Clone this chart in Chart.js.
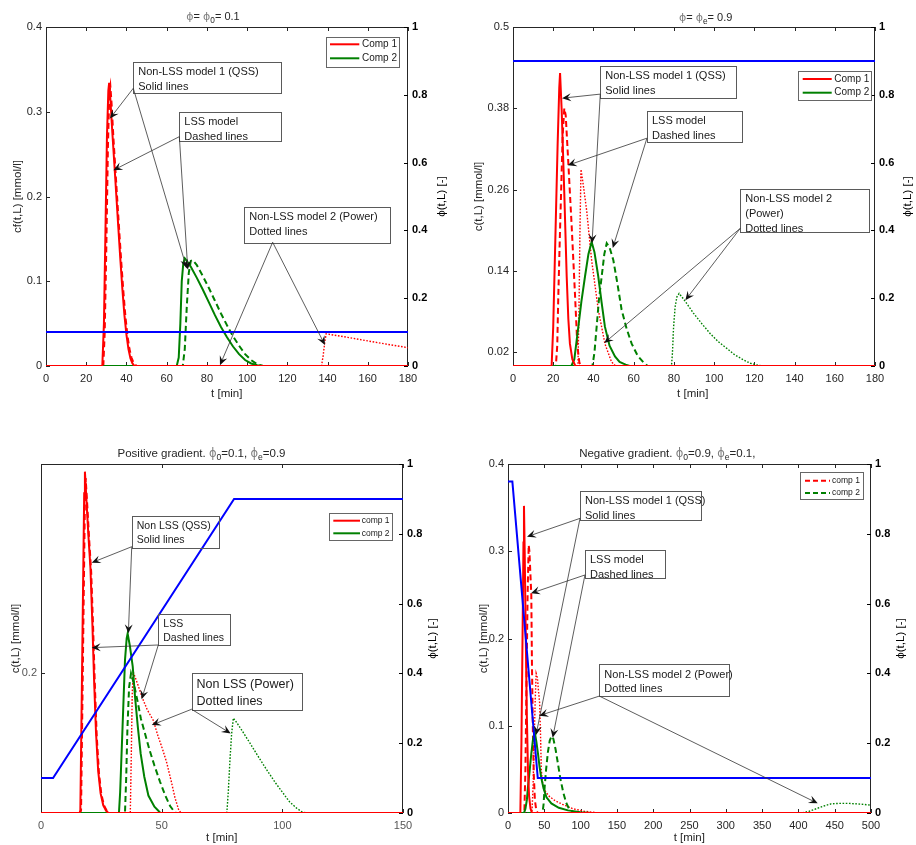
<!DOCTYPE html>
<html>
<head>
<meta charset="utf-8">
<script src="https://cdn.jsdelivr.net/npm/chart.js@4.4.0/dist/chart.umd.min.js"></script>
<style>
  html, body { margin: 0; padding: 0; background: #fff; }
  #wrap { position: relative; width: 916px; height: 845px; }
  #wrap canvas { position: absolute; }
</style>
</head>
<body>
<div id="wrap">
  <canvas id="c1" width="458" height="420" style="left:0;top:0"></canvas>
  <canvas id="c2" width="458" height="420" style="left:458px;top:0"></canvas>
  <canvas id="c3" width="458" height="425" style="left:0;top:420px"></canvas>
  <canvas id="c4" width="458" height="425" style="left:458px;top:420px"></canvas>
</div>
<script>
// ---- data: [t (min), value] ----
// panel 1: phi = phi0 = 0.1
const a_phi   = [[0,0.1],[180,0.1]];
const a_r_qss = [[0,0],[28,0],[28.8,0.05],[29.5,0.15],[30.3,0.27],[31,0.325],[31.4,0.334],[32,0.315],[33,0.275],[34,0.238],[35,0.2],[36,0.162],[37,0.125],[38,0.09],[39,0.06],[40,0.037],[41,0.02],[42,0.009],[43,0.003],[44,0],[180,0]];
const a_r_lss = [[0,0],[28.5,0],[29.2,0.04],[30,0.14],[30.8,0.26],[31.5,0.322],[32,0.33],[32.6,0.31],[33.5,0.27],[34.5,0.232],[35.5,0.194],[36.5,0.156],[37.5,0.12],[38.5,0.087],[39.5,0.058],[40.5,0.036],[41.5,0.02],[42.5,0.01],[43.5,0.004],[45,0],[180,0]];
const a_r_pow = [[0,0],[137,0],[137.8,0.012],[138.6,0.028],[139.3,0.038],[150,0.0338],[160,0.0296],[170,0.0255],[180,0.0216]];
const a_g_qss = [[0,0],[65,0],[66,0.01],[66.8,0.05],[67.5,0.1],[68.3,0.122],[69,0.127],[70,0.124],[72,0.117],[75,0.104],[78,0.09],[81,0.075],[84,0.06],[87,0.046],[90,0.034],[93,0.023],[96,0.014],[99,0.007],[102,0.003],[105,0.001],[108,0],[180,0]];
const a_g_lss = [[0,0],[68,0],[69,0.02],[70,0.07],[71,0.11],[72,0.124],[73,0.125],[75,0.119],[78,0.106],[81,0.092],[84,0.077],[87,0.062],[90,0.048],[93,0.035],[96,0.024],[99,0.014],[102,0.007],[105,0.002],[108,0],[180,0]];
const a_g_pow = [[0,0],[180,0]];

// panel 2: phi = phie = 0.9
const b_phi   = [[0,0.9],[180,0.9]];
const b_r_qss = [[0,0],[19.2,0],[20,0.058],[21.2,0.205],[22.2,0.328],[23,0.41],[23.4,0.432],[24.2,0.378],[25.5,0.255],[26.7,0.132],[27.5,0.07],[28.3,0.033],[29.5,0.01],[31,0],[180,0]];
const b_r_lss = [[0,0],[21.3,0],[22,0.03],[22.5,0.1],[23.2,0.18],[23.9,0.255],[24.7,0.34],[25.5,0.38],[26.2,0.37],[27.5,0.3],[29.2,0.205],[30.8,0.107],[32,0.03],[33,0.005],[34,0],[180,0]];
const b_r_pow = [[0,0],[32.3,0],[32.8,0.08],[33.3,0.2],[33.8,0.29],[34.8,0.27],[36.6,0.23],[39.1,0.156],[42.4,0.083],[45.7,0.033],[49,0.006],[51,0],[180,0]];
const b_g_qss = [[0,0],[29,0],[30.5,0.01],[32.5,0.058],[34,0.095],[35.8,0.132],[37.5,0.165],[39.1,0.183],[40.5,0.168],[42.4,0.132],[44,0.095],[45.7,0.058],[48,0.03],[50.7,0.014],[53,0.006],[56,0.002],[58,0],[180,0]];
const b_g_lss = [[0,0],[39.5,0],[40.5,0.02],[41.6,0.058],[42.8,0.1],[44.1,0.132],[45.4,0.165],[46.6,0.181],[48,0.175],[49.9,0.156],[52,0.12],[54,0.083],[56.5,0.055],[59,0.033],[62,0.015],[65,0.005],[67,0],[180,0]];
const b_g_pow = [[0,0],[78.8,0],[79.3,0.02],[79.8,0.055],[80.6,0.087],[81.5,0.102],[82.6,0.107],[85,0.098],[89.7,0.078],[94,0.062],[98,0.048],[102,0.036],[106.3,0.026],[110,0.017],[114.6,0.009],[118,0.004],[122,0.001],[125,0],[180,0]];

// panel 3: positive gradient
const c_phi   = [[0,0.1],[5,0.1],[80,0.9],[150,0.9]];
const c_r_qss = [[0,0],[16,0],[16.3,0.004],[16.9,0.171],[17.4,0.315],[17.9,0.458],[18.2,0.489],[18.8,0.45],[19.6,0.4],[20.5,0.35],[21.3,0.27],[22,0.19],[22.8,0.115],[23.7,0.06],[24.7,0.028],[25.8,0.011],[27,0.003],[28,0],[150,0]];
const c_r_lss = [[0,0],[16.3,0],[16.6,0.004],[17.2,0.17],[17.7,0.31],[18.2,0.45],[18.5,0.48],[19.1,0.445],[19.9,0.395],[20.8,0.345],[21.6,0.265],[22.3,0.185],[23.1,0.11],[24,0.058],[25,0.027],[26.1,0.011],[27.3,0.003],[28.5,0],[150,0]];
const c_r_pow = [[0,0],[37,0],[37.4,0.08],[37.8,0.17],[38.2,0.202],[40,0.185],[42,0.165],[44,0.148],[46.5,0.133],[48.5,0.11],[50.5,0.09],[52.1,0.072],[54,0.045],[55.5,0.022],[57,0.005],[58,0],[150,0]];
const c_g_qss = [[0,0],[32.3,0],[32.8,0.03],[33.8,0.124],[34.8,0.219],[35.5,0.25],[35.9,0.257],[36.8,0.24],[38,0.21],[39,0.165],[40.1,0.124],[41.3,0.085],[42.8,0.052],[44.5,0.025],[47,0.009],[49.5,0],[150,0]];
const c_g_lss = [[0,0],[34.8,0],[35.3,0.05],[35.8,0.12],[36.5,0.18],[37.3,0.2],[38.5,0.185],[40,0.16],[41.4,0.135],[43,0.115],[45,0.09],[47,0.068],[49.3,0.045],[51.5,0.025],[53.5,0.01],[55,0.003],[56,0],[150,0]];
const c_g_pow = [[0,0],[77,0],[77.6,0.03],[78.3,0.076],[79,0.114],[79.7,0.136],[81,0.13],[83.5,0.117],[86.6,0.1],[90,0.081],[93.5,0.062],[97,0.044],[100.4,0.028],[103,0.016],[105.9,0.007],[108,0.002],[110,0],[150,0]];

// panel 4: negative gradient
const d_phi   = [[0,0.95],[6,0.95],[41,0.1],[500,0.1]];
const d_r_qss = [[0,0],[17,0],[18.5,0.08],[20,0.2],[21.3,0.31],[22,0.352],[23,0.3],[24.5,0.2],[26,0.11],[27.5,0.05],[29,0.02],[31,0.005],[33,0],[500,0]];
const d_r_lss = [[0,0],[22.5,0],[24,0.05],[25.5,0.15],[27,0.25],[28.5,0.307],[29.5,0.3],[30.8,0.275],[32.1,0.25],[33,0.17],[34.4,0.087],[35.5,0.045],[37,0.015],[39,0.003],[41,0],[500,0]];
const d_r_pow = [[0,0],[33,0],[34.5,0.03],[36,0.08],[37.5,0.13],[38.8,0.16],[40.5,0.155],[42,0.14],[43.6,0.126],[44.8,0.09],[45.9,0.049],[48,0.032],[52,0.024],[57,0.019],[65,0.014],[75,0.01],[89,0.005],[105,0.002],[125,0],[500,0]];
const d_g_qss = [[0,0],[22,0],[24,0.005],[26,0.015],[27.5,0.03],[30,0.05],[32.1,0.068],[34.5,0.085],[36.8,0.093],[39,0.082],[41.3,0.068],[43.5,0.053],[45.9,0.04],[49,0.028],[53,0.018],[59.7,0.011],[70,0.006],[82.6,0.003],[100,0.001],[115,0],[500,0]];
const d_g_lss = [[0,0],[47.5,0],[49,0.01],[50.5,0.03],[52.5,0.05],[55,0.07],[57.5,0.083],[60,0.088],[62.5,0.085],[65.5,0.073],[68.5,0.058],[72,0.04],[76,0.024],[80,0.012],[84,0.005],[90,0.001],[95,0],[500,0]];
const d_g_pow = [[0,0],[405,0],[415,0.002],[425,0.005],[435,0.008],[445,0.0105],[455,0.011],[470,0.011],[485,0.0102],[500,0.009]];

// tick values
const b_cTicks = [0.02, 0.14, 0.26, 0.38, 0.5];
const c_cTicks = [0.2];

const FF = "'Liberation Sans', Arial, sans-serif";
const RED = '#ff0000', GREEN = '#008000', BLUE = '#0000ff';
const STY = {
  phi: { color: BLUE,  width: 2,   dash: [] },
  rq:  { color: RED,   width: 2,   dash: [] },
  rl:  { color: RED,   width: 2,   dash: [6, 3.5] },
  rp:  { color: RED,   width: 1.4, dash: [1.6, 1.6] },
  gq:  { color: GREEN, width: 2,   dash: [] },
  gl:  { color: GREEN, width: 2,   dash: [6, 3.5] },
  gp:  { color: GREEN, width: 1.4, dash: [1.6, 1.6] }
};

const panels = [
  {
    id: 'c1', box: { x: 0, y: 0, w: 458, h: 420 }, area: { t: 27, l: 46, r: 408, b: 366 },
    x: [0, 180, 20], yl: [0, 0.4, 0.1], yr: [0, 1, 0.2],
    series: [['phi', a_phi, 'y1'], ['rq', a_r_qss], ['gq', a_g_qss], ['rl', a_r_lss], ['gl', a_g_lss], ['rp', a_r_pow], ['gp', a_g_pow]],
    title: [['ϕ', 'g'], ['= ', ''], ['ϕ', 'g'], ['0', 's'], ['= 0.1', '']], titleX: 213, titleY: 17, titleSize: 11,
    yTitle: 'cf(t,L) [mmol/l]', yTitleX: 18, rTitleX: 441.7, xTitleX: 226.7, xTitleY: 394.3,
    legend: { x: 325.7, y: 36.7, w: 73.3, h: 30, l0: 4.3, len: 29.3, tx: 36.3, rows: [7.6, 21.6], size: 10, labels: ['Comp 1', 'Comp 2'], keys: ['rq', 'gq'] },
    boxes: [
      { t1: 43.4, c1: 0.359, t2: 117.2, c2: 0.3225, size: 11, lines: ['Non-LSS model 1 (QSS)', 'Solid lines'] },
      { t1: 66.3, c1: 0.300, t2: 117.2, c2: 0.266, size: 11, lines: ['LSS model', 'Dashed lines'] },
      { t1: 98.6, c1: 0.188, t2: 171.1, c2: 0.146, size: 11, lines: ['Non-LSS model 2 (Power)', 'Dotted lines'] }
    ],
    arrows: [
      [43.4, 0.3277, 31.8, 0.292], [43.4, 0.3277, 70.0, 0.115],
      [66.3, 0.2706, 33.5, 0.231], [66.3, 0.2706, 70.5, 0.114],
      [112.7, 0.146, 86.5, 0.001], [112.7, 0.146, 138.7, 0.0248]
    ]
  },
  {
    id: 'c2', box: { x: 458, y: 0, w: 458, h: 420 }, area: { t: 27, l: 513, r: 875, b: 366 },
    x: [0, 180, 20], yl: [0, 0.5, null, b_cTicks], yr: [0, 1, 0.2],
    series: [['phi', b_phi, 'y1'], ['rq', b_r_qss], ['gq', b_g_qss], ['rl', b_r_lss], ['gl', b_g_lss], ['rp', b_r_pow], ['gp', b_g_pow]],
    title: [['ϕ', 'g'], ['= ', ''], ['ϕ', 'g'], ['e', 's'], ['= 0.9', '']], titleX: 705.7, titleY: 18, titleSize: 11,
    yTitle: 'c(t,L) [mmol/l]', yTitleX: 478.7, rTitleX: 907.7, xTitleX: 692.7, xTitleY: 394.3,
    legend: { x: 797.7, y: 70.7, w: 73.3, h: 29.3, l0: 5, len: 29, tx: 36.6, rows: [8.3, 22], size: 10, labels: ['Comp 1', 'Comp 2'], keys: ['rq', 'gq'] },
    boxes: [
      { t1: 43.4, c1: 0.443, t2: 111.2, c2: 0.396, size: 11, lines: ['Non-LSS model 1 (QSS)', 'Solid lines'] },
      { t1: 66.6, c1: 0.3766, t2: 113.9, c2: 0.3308, size: 11, lines: ['LSS model', 'Dashed lines'] },
      { t1: 113, c1: 0.261, t2: 176.9, c2: 0.197, size: 11, lines: ['Non-LSS model 2', '(Power)', 'Dotted lines'] }
    ],
    arrows: [
      [43.4, 0.401, 24.4, 0.395], [43.4, 0.401, 39.3, 0.181],
      [66.6, 0.336, 27.2, 0.296], [66.6, 0.336, 49.6, 0.174],
      [113, 0.203, 45.4, 0.034], [113, 0.203, 85.7, 0.097]
    ]
  },
  {
    id: 'c3', box: { x: 0, y: 420, w: 458, h: 425 }, area: { t: 464, l: 41, r: 403, b: 813 },
    x: [0, 150, 50], yl: [0, 0.5, null, c_cTicks], yr: [0, 1, 0.2],
    series: [['phi', c_phi, 'y1'], ['rq', c_r_qss], ['gq', c_g_qss], ['rl', c_r_lss], ['gl', c_g_lss], ['rp', c_r_pow], ['gp', c_g_pow]],
    title: [['Positive gradient. ', ''], ['ϕ', 'g'], ['0', 's'], ['=0.1, ', ''], ['ϕ', 'g'], ['e', 's'], ['=0.9', '']], titleX: 201.5, titleY: 454.3, titleSize: 11.5,
    yTitle: 'c(t,L) [mmol/l]', yTitleX: 16, rTitleX: 433, xTitleX: 221.7, xTitleY: 838.3, tickColor: '#555',
    legend: { x: 329.3, y: 513.3, w: 63, h: 27.4, l0: 4, len: 26.7, tx: 32.4, rows: [7.4, 20], size: 8.5, labels: ['comp 1', 'comp 2'], keys: ['rq', 'gq'] },
    boxes: [
      { t1: 37.6, c1: 0.426, t2: 73.5, c2: 0.380, size: 10.5, lines: ['Non LSS (QSS)', 'Solid lines'] },
      { t1: 48.6, c1: 0.285, t2: 78.3, c2: 0.241, size: 10.5, lines: ['LSS', 'Dashed lines'] },
      { t1: 62.4, c1: 0.200, t2: 108, c2: 0.1476, size: 12.5, lines: ['Non LSS (Power)', 'Dotted lines'] }
    ],
    arrows: [
      [37.6, 0.3815, 21, 0.3586], [37.6, 0.3815, 36.2, 0.2574],
      [48.6, 0.2407, 21, 0.2369], [48.6, 0.2407, 41.7, 0.163],
      [62.4, 0.1486, 45.9, 0.126], [62.4, 0.1486, 78.6, 0.114]
    ]
  },
  {
    id: 'c4', box: { x: 458, y: 420, w: 458, h: 425 }, area: { t: 464, l: 508, r: 871, b: 813 },
    x: [0, 500, 50], yl: [0, 0.4, 0.1], yr: [0, 1, 0.2],
    series: [['phi', d_phi, 'y1'], ['rq', d_r_qss], ['gq', d_g_qss], ['rl', d_r_lss], ['gl', d_g_lss], ['rp', d_r_pow], ['gp', d_g_pow]],
    title: [['Negative gradient. ', ''], ['ϕ', 'g'], ['0', 's'], ['=0.9, ', ''], ['ϕ', 'g'], ['e', 's'], ['=0.1,', '']], titleX: 667.3, titleY: 454.3, titleSize: 11.5,
    yTitle: 'c(t,L) [mmol/l]', yTitleX: 484.3, rTitleX: 901, xTitleX: 689.3, xTitleY: 838.3,
    legend: { x: 800.3, y: 472.3, w: 63, h: 27, l0: 4.7, len: 25, tx: 31.7, rows: [8.4, 20.7], size: 8.5, labels: ['comp 1', 'comp 2'], keys: ['rl', 'gl'] },
    boxes: [
      { t1: 99.2, c1: 0.369, t2: 265.8, c2: 0.3358, size: 11, lines: ['Non-LSS model 1 (QSS)', 'Solid lines'] },
      { t1: 106, c1: 0.302, t2: 216.3, c2: 0.270, size: 11, lines: ['LSS model', 'Dashed lines'] },
      { t1: 125.8, c1: 0.1704, t2: 304.8, c2: 0.1341, size: 11, lines: ['Non-LSS model 2 (Power)', 'Dotted lines'] }
    ],
    arrows: [
      [99.2, 0.3377, 26.2, 0.3167], [99.2, 0.3377, 38.6, 0.0894],
      [106, 0.2728, 31.7, 0.2518], [106, 0.2728, 61.5, 0.0863],
      [125.8, 0.134, 43.1, 0.1116], [125.8, 0.134, 426.6, 0.0111]
    ]
  }
];

function fmt(v) { return String(Math.round(v * 1000) / 1000); }

function drawRich(ctx, parts, cx, cy, size) {
  const font = p => p[1] === 's' ? (size * 0.75) + 'px ' + FF
                  : p[1] === 'g' ? size + "px 'DejaVu Sans', sans-serif" : size + 'px ' + FF;
  let w = 0;
  parts.forEach(p => { ctx.font = font(p); w += ctx.measureText(p[0]).width; });
  let x = cx - w / 2;
  ctx.textAlign = 'left';
  ctx.textBaseline = 'middle';
  parts.forEach(p => {
    ctx.font = font(p);
    ctx.fillStyle = p[1] === 'g' ? '#808080' : '#262626';
    ctx.fillText(p[0], x, p[1] === 's' ? cy + 3.5 : cy);
    x += ctx.measureText(p[0]).width;
  });
}

function arrow(ctx, x0, y0, x1, y1) {
  const a = Math.atan2(y1 - y0, x1 - x0), c = Math.cos(a), s = Math.sin(a);
  const L = 9, W = 4, N = 5.5;
  ctx.beginPath();
  ctx.moveTo(x0, y0);
  ctx.lineTo(x1 - c * N, y1 - s * N);
  ctx.stroke();
  ctx.beginPath();
  ctx.moveTo(x1, y1);
  ctx.lineTo(x1 - L * c + W * s, y1 - L * s - W * c);
  ctx.lineTo(x1 - N * c, y1 - N * s);
  ctx.lineTo(x1 - L * c - W * s, y1 - L * s + W * c);
  ctx.closePath();
  ctx.fill();
}

function overlay(p) {
  return {
    id: 'overlay',
    // axes box and inward ticks go under the curves, so the zero lines sit on the bottom edge
    beforeDatasetsDraw(chart) {
      const ctx = chart.ctx, A = chart.chartArea;
      const xs = chart.scales.x, yl = chart.scales.y, yr = chart.scales.y1;
      ctx.save();
      ctx.strokeStyle = '#262626';
      ctx.lineWidth = 1;
      ctx.setLineDash([]);
      ctx.strokeRect(A.left + 0.5, A.top + 0.5, A.right - A.left - 1, A.bottom - A.top - 1);
      const TL = 4;
      ctx.beginPath();
      xs.ticks.forEach(tk => {
        const px = Math.round(xs.getPixelForValue(tk.value)) + 0.5;
        ctx.moveTo(px, A.bottom); ctx.lineTo(px, A.bottom - TL);
        ctx.moveTo(px, A.top); ctx.lineTo(px, A.top + TL);
      });
      yl.ticks.forEach(tk => {
        const py = Math.round(yl.getPixelForValue(tk.value)) + 0.5;
        ctx.moveTo(A.left, py); ctx.lineTo(A.left + TL, py);
      });
      ctx.stroke();
      ctx.strokeStyle = '#000';
      ctx.beginPath();
      yr.ticks.forEach(tk => {
        const py = Math.round(yr.getPixelForValue(tk.value)) + 0.5;
        ctx.moveTo(A.right, py); ctx.lineTo(A.right - TL, py);
      });
      ctx.stroke();
      ctx.restore();
    },
    afterDraw(chart) {
      const ctx = chart.ctx, A = chart.chartArea;
      const xs = chart.scales.x, yl = chart.scales.y;
      const ox = p.box.x, oy = p.box.y;
      ctx.save();

      // titles
      drawRich(ctx, p.title, p.titleX - ox, p.titleY - oy, p.titleSize);
      ctx.fillStyle = '#262626';
      ctx.font = '11.5px ' + FF;
      ctx.textAlign = 'center';
      ctx.textBaseline = 'middle';
      ctx.fillText('t [min]', p.xTitleX - ox, p.xTitleY - oy);
      const midY = (A.top + A.bottom) / 2;
      ctx.save();
      ctx.translate(p.yTitleX - ox, midY);
      ctx.rotate(-Math.PI / 2);
      ctx.fillText(p.yTitle, 0, 0);
      ctx.restore();
      ctx.save();
      ctx.translate(p.rTitleX - ox, midY);
      ctx.rotate(-Math.PI / 2);
      ctx.fillStyle = '#000';
      ctx.fillText('ϕ(t,L) [-]', 0, 0);
      ctx.restore();

      // annotation boxes and arrows
      p.boxes.forEach(b => {
        const x1 = xs.getPixelForValue(b.t1), y1 = yl.getPixelForValue(b.c1);
        const x2 = xs.getPixelForValue(b.t2), y2 = yl.getPixelForValue(b.c2);
        ctx.strokeStyle = '#5a5a5a';
        ctx.lineWidth = 1;
        ctx.strokeRect(Math.round(x1) + 0.5, Math.round(y1) + 0.5, Math.round(x2 - x1), Math.round(y2 - y1));
        ctx.fillStyle = '#1a1a1a';
        ctx.font = b.size + 'px ' + FF;
        ctx.textAlign = 'left';
        ctx.textBaseline = 'middle';
        const lh = b.size * 1.34;
        b.lines.forEach((s, i) => ctx.fillText(s, x1 + 5, y1 + 3 + lh * (i + 0.5)));
      });
      ctx.strokeStyle = '#333';
      ctx.fillStyle = '#111';
      ctx.lineWidth = 0.8;
      p.arrows.forEach(a => arrow(ctx,
        xs.getPixelForValue(a[0]), yl.getPixelForValue(a[1]),
        xs.getPixelForValue(a[2]), yl.getPixelForValue(a[3])));

      // legend
      const g = p.legend, lx = g.x - ox, ly = g.y - oy;
      ctx.fillStyle = '#fff';
      ctx.fillRect(lx, ly, g.w, g.h);
      ctx.strokeStyle = '#666';
      ctx.lineWidth = 1;
      ctx.setLineDash([]);
      ctx.strokeRect(Math.round(lx) + 0.5, Math.round(ly) + 0.5, Math.round(g.w), Math.round(g.h));
      g.keys.forEach((k, i) => {
        const st = STY[k], yy = ly + g.rows[i];
        ctx.strokeStyle = st.color;
        ctx.lineWidth = st.width;
        ctx.setLineDash(st.dash.length ? [5, 3] : []);
        ctx.beginPath();
        ctx.moveTo(lx + g.l0, yy);
        ctx.lineTo(lx + g.l0 + g.len, yy);
        ctx.stroke();
        ctx.setLineDash([]);
        ctx.fillStyle = '#1a1a1a';
        ctx.font = g.size + 'px ' + FF;
        ctx.textAlign = 'left';
        ctx.textBaseline = 'middle';
        ctx.fillText(g.labels[i], lx + g.tx, yy);
      });
      ctx.restore();
    }
  };
}

function yScale(p, def, pos) {
  const color = pos === 'right' ? '#000' : (p.tickColor || '#262626');
  const sc = {
    type: 'linear', position: pos, min: def[0], max: def[1],
    grid: { display: false, drawTicks: false }, border: { display: false },
    ticks: {
      padding: 4, color: color, callback: v => fmt(v),
      font: { family: FF, size: 11, weight: pos === 'right' ? 'bold' : 'normal' }
    },
    afterFit: s => {
      s.width = pos === 'left' ? p.area.l - p.box.x : p.box.x + p.box.w - p.area.r;
    }
  };
  if (def[2]) sc.ticks.stepSize = def[2];
  if (def[3]) sc.afterBuildTicks = s => { s.ticks = def[3].map(v => ({ value: v })); };
  return sc;
}

panels.forEach(p => {
  const datasets = p.series.map(sr => {
    const st = STY[sr[0]];
    return {
      data: sr[1].map(pt => ({ x: pt[0], y: pt[1] })),
      yAxisID: sr[2] || 'y',
      borderColor: st.color,
      borderWidth: st.width,
      borderDash: st.dash,
      pointRadius: 0,
      tension: 0,
      fill: false
    };
  });
  new Chart(document.getElementById(p.id), {
    type: 'line',
    data: { datasets: datasets },
    options: {
      responsive: false,
      animation: false,
      events: [],
      layout: { padding: { top: p.area.t - p.box.y, left: 0, right: 0, bottom: 0 } },
      plugins: { legend: { display: false }, title: { display: false }, tooltip: { enabled: false } },
      scales: {
        x: {
          type: 'linear', min: p.x[0], max: p.x[1],
          grid: { display: false, drawTicks: false }, border: { display: false },
          ticks: { stepSize: p.x[2], padding: 6, maxRotation: 0, autoSkip: false,
                   color: p.tickColor || '#262626', font: { family: FF, size: 11 }, callback: v => fmt(v) },
          afterFit: s => { s.height = p.box.y + p.box.h - p.area.b; }
        },
        y: yScale(p, p.yl, 'left'),
        y1: yScale(p, p.yr, 'right')
      }
    },
    plugins: [overlay(p)]
  });
});
</script>
</body>
</html>
